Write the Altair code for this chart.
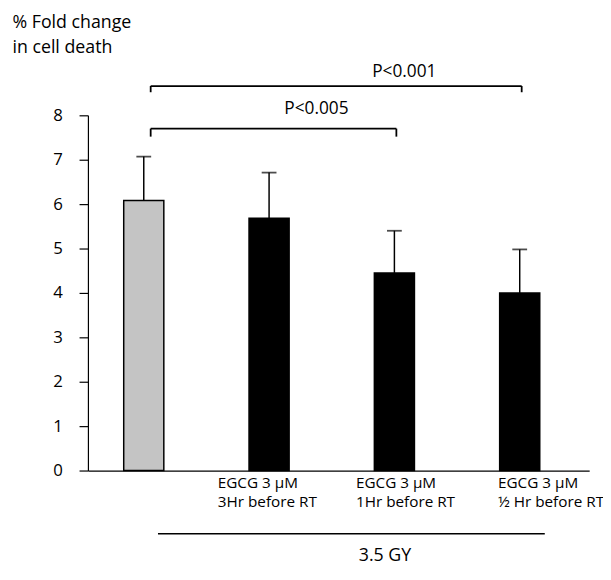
import altair as alt
import pandas as pd

categories = ["RT alone", "EGCG 3h", "EGCG 1h", "EGCG 0.5h"]
values = [6.08, 5.68, 4.45, 4.00]
err_top = [7.07, 6.71, 5.40, 4.98]
line1 = ["", "EGCG 3 \u00b5M", "EGCG 3 \u00b5M", "EGCG 3 \u00b5M"]
line2 = ["", "3Hr before RT", "1Hr before RT", "\u00bd Hr before RT"]
label_dx = [0, -52, -39, -22]
fills = ["#c4c4c4", "#000000", "#000000", "#000000"]

bracket_left = ["RT alone", "RT alone"]
bracket_right = ["EGCG 1h", "EGCG 0.5h"]
bracket_y = [7.70, 8.66]
bracket_drop = [7.52, 8.52]
bracket_text = ["P<0.005", "P<0.001"]
bracket_text_x = ["EGCG 3h", "EGCG 1h"]
bracket_text_y = [8.14, 8.97]

FONT = "Open Sans"

df = pd.DataFrame({"cat": categories, "val": values, "err": err_top,
                   "l1": line1, "l2": line2, "fill": fills, "dx": label_dx})

W, H = 508, 360
xscale = alt.Scale(domain=categories, paddingInner=0.68, paddingOuter=0.34, align=0.42)
yscale = alt.Scale(domain=[0, 8], nice=False)

x = alt.X("cat:N", scale=xscale, sort=categories,
          axis=alt.Axis(title=None, labels=False, ticks=False, domainColor="#000000",
                        domainWidth=1.2, grid=False))

bars = alt.Chart(df).mark_bar(stroke="#000000", strokeWidth=1.5).encode(
    x=x,
    y=alt.Y("val:Q", scale=yscale,
            axis=alt.Axis(values=list(range(0, 9)), tickSize=9, tickColor="#000000",
                          domainColor="#000000", domainWidth=1.2, tickWidth=1.2,
                          labelFont=FONT, labelFontSize=17, labelColor="#000000",
                          labelPadding=17, grid=False,
                          title=["% Fold change", " in cell death"], titleAngle=0,
                          titleAlign="left", titleBaseline="top", titleX=-77, titleY=-103,
                          titleFont=FONT, titleFontSize=18, titleFontWeight="normal",
                          titleColor="#000000", titleLineHeight=25)),
    fill=alt.Fill("fill:N", scale=None),
)

err_rule = alt.Chart(df).mark_rule(color="#000000", strokeWidth=1.5).encode(
    x=alt.X("cat:N", scale=xscale, sort=categories), y="val:Q", y2="err:Q")
err_cap = alt.Chart(df).mark_tick(color="#000000", size=15, thickness=1.8).encode(
    x=alt.X("cat:N", scale=xscale, sort=categories), y=alt.Y("err:Q", scale=yscale))

label_layers = []
for i, c in enumerate(categories):
    if not line1[i]:
        continue
    sub = df.iloc[[i]]
    label_layers.append(alt.Chart(sub).mark_text(
        font=FONT, fontSize=15.5, color="#000000", dx=label_dx[i], align="left",
        baseline="top").encode(
        x=alt.X("cat:N", scale=xscale, sort=categories), y=alt.value(H + 6), text="l1:N"))
    label_layers.append(alt.Chart(sub).mark_text(
        font=FONT, fontSize=15.5, color="#000000", dx=label_dx[i], align="left",
        baseline="top").encode(
        x=alt.X("cat:N", scale=xscale, sort=categories), y=alt.value(H + 25), text="l2:N"))

bdf = pd.DataFrame({"left": bracket_left, "right": bracket_right, "y": bracket_y,
                    "drop": bracket_drop, "text": bracket_text, "tx": bracket_text_x,
                    "ty": bracket_text_y})
bh = alt.Chart(bdf).mark_rule(color="#000000", strokeWidth=1.8, xOffset=7, x2Offset=2).encode(
    x=alt.X("left:N", scale=xscale, sort=categories), x2="right:N", y="y:Q")
bl = alt.Chart(bdf).mark_rule(color="#000000", strokeWidth=1.8, xOffset=7).encode(
    x=alt.X("left:N", scale=xscale, sort=categories), y="y:Q", y2="drop:Q")
br = alt.Chart(bdf).mark_rule(color="#000000", strokeWidth=1.8, xOffset=2).encode(
    x=alt.X("right:N", scale=xscale, sort=categories), y="y:Q", y2="drop:Q")
btxt1 = alt.Chart(bdf.iloc[[0]]).mark_text(font=FONT, fontSize=17.5, color="#000000",
                                          baseline="middle", xOffset=48).encode(
    x=alt.X("tx:N", scale=xscale, sort=categories), y="ty:Q", text="text:N")
btxt2 = alt.Chart(bdf.iloc[[1]]).mark_text(font=FONT, fontSize=17.5, color="#000000",
                                          baseline="middle", xOffset=10).encode(
    x=alt.X("tx:N", scale=xscale, sort=categories), y="ty:Q", text="text:N")

group_line = alt.Chart(pd.DataFrame({"a": [0]})).mark_rule(color="#000000", strokeWidth=1.5).encode(
    x=alt.value(71), x2=alt.value(463), y=alt.value(424))
group_text = alt.Chart(pd.DataFrame({"t": ["3.5 GY"]})).mark_text(
    font=FONT, fontSize=18, color="#000000", baseline="middle").encode(
    x=alt.value(301), y=alt.value(447), text="t:N")

chart = alt.layer(bars, err_rule, err_cap, *label_layers, bh, bl, br, btxt1, btxt2,
                  group_line, group_text).properties(
    width=W, height=H,
    autosize=alt.AutoSizeParams(type="none"),
    padding={"left": 81, "top": 105, "right": 14, "bottom": 95},
    background="#ffffff",
).configure_view(stroke="#ffffff", strokeOpacity=0, strokeWidth=0).configure_axis(grid=False)

chart.save("out.html", embed_options={"renderer": "svg", "actions": False})
